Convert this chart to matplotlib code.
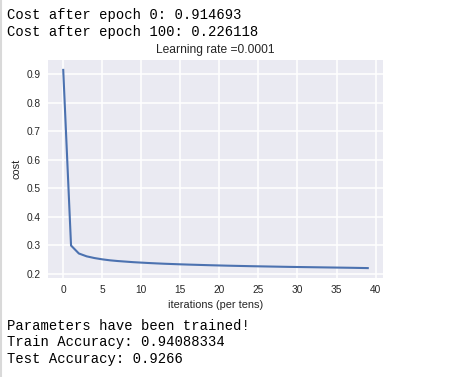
import numpy as np
import matplotlib.pyplot as plt
from matplotlib.lines import Line2D

costs = [0.9147, 0.299, 0.271, 0.261, 0.255, 0.2505, 0.247, 0.2445, 0.2425, 0.2405,
         0.239, 0.2375, 0.2362, 0.235, 0.234, 0.233, 0.2321, 0.2313, 0.2305, 0.2297,
         0.229, 0.2283, 0.2277, 0.2271, 0.2265, 0.226, 0.2255, 0.225, 0.2245, 0.224,
         0.2236, 0.2232, 0.2228, 0.2224, 0.2220, 0.2216, 0.2212, 0.2208, 0.2203, 0.2198]
learning_rate = "0.0001"
head_lines = ["Cost after epoch 0: 0.914693", "Cost after epoch 100: 0.226118"]
tail_lines = ["Parameters have been trained!", "Train Accuracy: 0.94088334", "Test Accuracy: 0.9266"]

plt.rcParams['font.family'] = ['Liberation Sans', 'DejaVu Sans']

fig = plt.figure(figsize=(4.49, 3.77), dpi=100)
fig.patch.set_facecolor('white')
ax = fig.add_axes([48/449, 1 - 278/377, 335/449, 218/377])
ax.set_facecolor('#EAEAF2')
for s in ax.spines.values():
    s.set_visible(False)
ax.grid(True, color='white', linewidth=1.1)
ax.set_axisbelow(True)

ax.plot(np.arange(len(costs)), costs, color='#4C72B0', linewidth=1.5)
ax.set_xticks([0, 5, 10, 15, 20, 25, 30, 35, 40])
ax.set_yticks([0.2, 0.3, 0.4, 0.5, 0.6, 0.7, 0.8, 0.9])
ax.tick_params(length=0, labelsize=7.3, labelcolor='#262626', pad=5)
ax.set_ylabel('cost', fontsize=7.9, color='#262626', labelpad=4)
ax.set_xlabel('iterations (per tens)', fontsize=7.9, color='#262626', labelpad=4)
ax.set_title("Learning rate =" + learning_rate, fontsize=8.64, color='#262626', pad=5)

mono = ['Liberation Mono', 'DejaVu Sans Mono']
for i, t in enumerate(head_lines):
    fig.text(7/449, 1 - (19.5 + 16.5*i)/377, t, family=mono, fontsize=10,
             va='baseline', color='black')
for i, t in enumerate(tail_lines):
    fig.text(7/449, 1 - (329.5 + 16.7*i)/377, t, family=mono, fontsize=10,
             va='baseline', color='black')

fig.add_artist(Line2D([1/449, 1/449], [0, 1], transform=fig.transFigure,
                      color='#d9d9d9', linewidth=1.5))

fig.savefig('out.png', dpi=100)
